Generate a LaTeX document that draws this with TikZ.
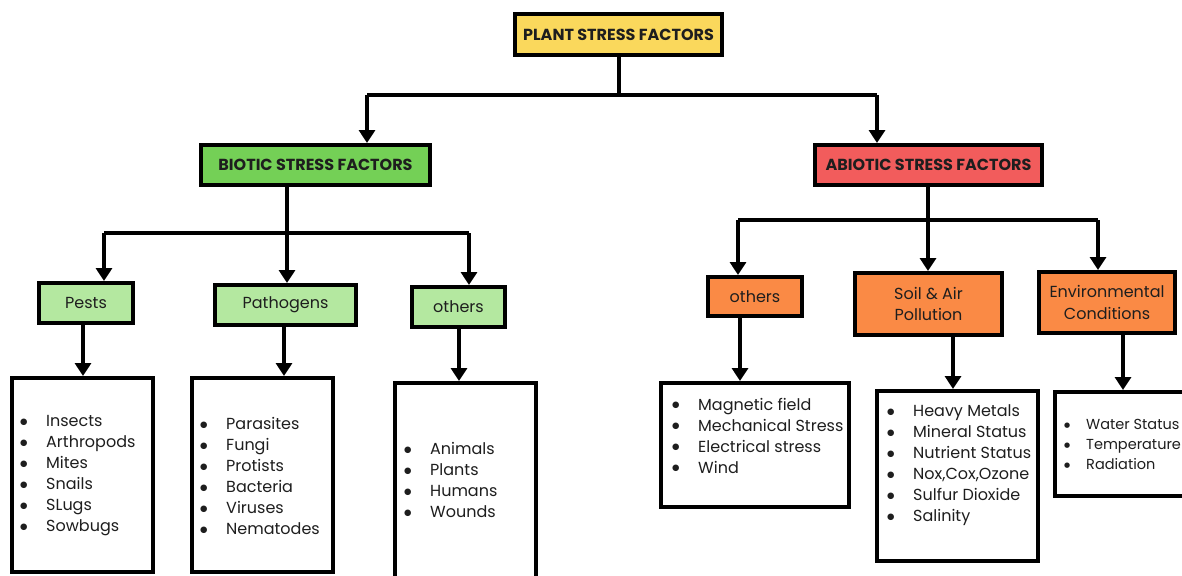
\documentclass[tikz,border=0pt]{standalone}
\usepackage{fontspec}
\setmainfont{Poppins}
\newfontfamily\dejavu{DejaVu Sans}
\usetikzlibrary{arrows.meta}
\definecolor{cyellow}{HTML}{FAD85C}
\definecolor{cgreen}{HTML}{74D056}
\definecolor{clgreen}{HTML}{B4E8A0}
\definecolor{cred}{HTML}{F25C5C}
\definecolor{corange}{HTML}{FA8A45}
\definecolor{ctext}{HTML}{1E1E1E}
\newcommand{\blt}{\raisebox{2.3pt}{\dejavu\fontsize{8.5}{8.5}\selectfont ●}}
\newcommand{\bltsm}{\raisebox{2pt}{\dejavu\fontsize{7}{7}\selectfont ●}}
\newcommand{\itm}[1]{\makebox[26pt][l]{\blt}#1}
\newcommand{\itmsm}[1]{\makebox[22pt][l]{\bltsm}#1}
\tikzset{
  box/.style={draw=black, line width=4pt, inner sep=0pt, text=ctext},
  head/.style={box, font=\fontsize{16}{19}\selectfont\bfseries},
  sub/.style={box, font=\fontsize{16}{21.5}\selectfont, align=center},
  listbox/.style={box, fill=white},
  listtext/.style={anchor=west, align=left, inner sep=0pt, text=ctext, font=\fontsize{16}{21}\selectfont},
  conn/.style={line width=4pt, draw=black},
  arr/.style={conn, -{Triangle[width=16pt,length=13pt]}},
}
\begin{document}
\begin{tikzpicture}[x=1pt,y=-1pt]
\useasboundingbox[fill=white] (0,0) rectangle (1182,575);
% top level
\node[head, fill=cyellow, minimum width=207pt, minimum height=41pt] (plant) at (618.5,34.5) {PLANT STRESS FACTORS};
\node[head, fill=cgreen, minimum width=229pt, minimum height=40pt] (biotic) at (315.5,165) {BIOTIC STRESS FACTORS};
\node[head, fill=cred, minimum width=227pt, minimum height=40pt] (abiotic) at (928.5,165) {ABIOTIC STRESS FACTORS};
% second level
\node[sub, fill=clgreen, minimum width=94pt, minimum height=40pt] (pests) at (86,303) {Pests};
\node[sub, fill=clgreen, minimum width=141pt, minimum height=40pt] (patho) at (285.5,305) {Pathogens};
\node[sub, fill=clgreen, minimum width=93pt, minimum height=40pt] (oth1) at (458.5,307) {others};
\node[sub, fill=corange, minimum width=94pt, minimum height=39pt] (oth2) at (755,296.5) {others};
\node[sub, fill=corange, minimum width=147pt, minimum height=62pt] (soil) at (928.5,304) {Soil \& Air\\Pollution};
\node[sub, fill=corange, minimum width=136pt, minimum height=61pt] (env) at (1107,302.5) {Environmental\\Conditions};
% list boxes
\node[listbox, minimum width=141pt, minimum height=194pt] (l1) at (82.5,475) {};
\node[listbox, minimum width=141pt, minimum height=194pt] (l2) at (262.5,475) {};
\node[listbox, minimum width=141pt, minimum height=197pt] (l3) at (465.5,481.5) {};
\node[listbox, minimum width=188pt, minimum height=124pt] (l4) at (755,445) {};
\node[listbox, minimum width=161pt, minimum height=170pt] (l5) at (957.5,476) {};
\node[listbox, minimum width=143pt, minimum height=104pt] (l6) at (1126.5,444) {};
% list texts
\node[listtext] (t1) at (20,476) {\itm{Insects}\\\itm{Arthropods}\\\itm{Mites}\\\itm{Snails}\\\itm{SLugs}\\\itm{Sowbugs}};
\node[listtext] (t2) at (200,476) {\itm{Parasites}\\\itm{Fungi}\\\itm{Protists}\\\itm{Bacteria}\\\itm{Viruses}\\\itm{Nematodes}};
\node[listtext] (t3) at (404,480) {\itm{Animals}\\\itm{Plants}\\\itm{Humans}\\\itm{Wounds}};
\node[listtext] (t4) at (672,435.5) {\itm{Magnetic field}\\\itm{Mechanical Stress}\\\itm{Electrical stress}\\\itm{Wind}};
\node[listtext] (t5) at (887,465) {\itm{Heavy Metals}\\\itm{Mineral Status}\\\itm{Nutrient Status}\\\itm{Nox,Cox,Ozone}\\\itm{Sulfur Dioxide}\\\itm{Salinity}};
\node[listtext, font=\fontsize{14.5}{20}\selectfont] (t6) at (1064,444) {\itmsm{Water Status}\\\itmsm{Temperature}\\\itmsm{Radiation}};
% bus coordinates
\coordinate (bL) at (367,95);
\coordinate (bR) at (877,95);
\coordinate (c1) at (104,233);
\coordinate (c2) at (287,233);
\coordinate (c3) at (469,233);
\coordinate (a1) at (738,220);
\coordinate (a2) at (928,220);
\coordinate (a3) at (1098,220);
\coordinate (d1) at (83,0);
\coordinate (d2) at (284,0);
\coordinate (d3) at (459,0);
\coordinate (d4) at (740,0);
\coordinate (d5) at (953,0);
\coordinate (d6) at (1123,0);
% top connectors
\draw[conn] (plant.south) -- (plant.south |- bL);
\draw[conn] (bL) -- (bR);
\draw[arr] (bL) -- (bL |- biotic.north);
\draw[arr] (bR) -- (bR |- abiotic.north);
% biotic connectors
\draw[conn] (c2 |- biotic.south) -- (c2);
\draw[conn] (c1) -- (c3);
\draw[arr] (c1) -- (c1 |- pests.north);
\draw[arr] (c2) -- (c2 |- patho.north);
\draw[arr] (c3) -- (c3 |- oth1.north);
% abiotic connectors
\draw[conn] (a2 |- abiotic.south) -- (a2);
\draw[conn] (a1) -- (a3);
\draw[arr] (a1) -- (a1 |- oth2.north);
\draw[arr] (a2) -- (a2 |- soil.north);
\draw[arr] (a3) -- (a3 |- env.north);
% down arrows
\draw[arr] (d1 |- pests.south) -- (d1 |- l1.north);
\draw[arr] (d2 |- patho.south) -- (d2 |- l2.north);
\draw[arr] (d3 |- oth1.south) -- (d3 |- l3.north);
\draw[arr] (d4 |- oth2.south) -- (d4 |- l4.north);
\draw[arr] (d5 |- soil.south) -- (d5 |- l5.north);
\draw[arr] (d6 |- env.south) -- (d6 |- l6.north);
\end{tikzpicture}
\end{document}
